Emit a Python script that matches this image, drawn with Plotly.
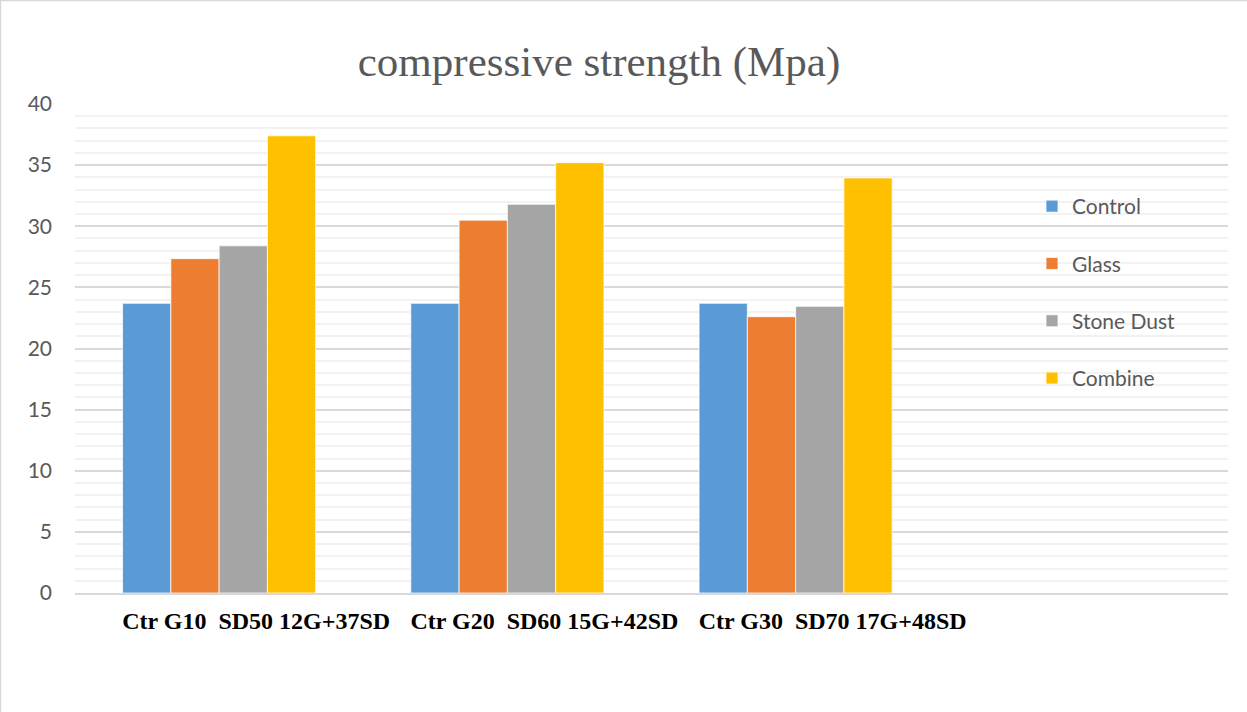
import plotly.graph_objects as go

categories = ["Ctr G10\u00a0\u00a0SD50 12G+37SD", "Ctr G20\u00a0\u00a0SD60 15G+42SD", "Ctr G30\u00a0\u00a0SD70 17G+48SD"]
series_names = ["Control", "Glass", "Stone Dust", "Combine"]
control = [23.7, 23.7, 23.7]
glass = [27.35, 30.5, 22.6]
stone_dust = [28.4, 31.8, 23.45]
combine = [37.4, 35.2, 33.95]
colors = ["#5B9BD5", "#ED7D31", "#A5A5A5", "#FFC000"]
y_ticks = [0, 5, 10, 15, 20, 25, 30, 35, 40]

x_pos = list(range(len(categories)))
fig = go.Figure()
for i, (name, vals) in enumerate(zip(series_names, [control, glass, stone_dust, combine])):
    fig.add_trace(go.Bar(
        x=x_pos, y=vals, name=name, legendgroup=name,
        marker=dict(color=colors[i], line=dict(color="white", width=0.75)),
    ))

fig.update_layout(
    width=1247, height=712,
    margin=dict(l=75, r=19, t=104, b=119),
    paper_bgcolor="white", plot_bgcolor="white",
    barmode="group", bargap=0.33, bargroupgap=0,
    title=dict(text="compressive strength (Mpa)", x=599 / 1247, xanchor="center",
               y=1 - 61 / 712, yanchor="middle", xref="container", yref="container",
               font=dict(family="Liberation Serif", size=43, color="#595959")),
    legend=dict(x=(1032 - 75) / 1153, xanchor="left", y=(593 - 186) / 489, yanchor="top",
                bgcolor="rgba(0,0,0,0)", tracegroupgap=27,
                font=dict(family="Lato", size=21, color="#595959")),
    showlegend=True,
)
fig.update_xaxes(
    range=[-0.5, 3.5], tickmode="array", tickvals=x_pos, ticktext=categories,
    ticklabelshift=37, ticklabelstandoff=5, showgrid=False, zeroline=False,
    showline=True, linecolor="#D9D9D9", linewidth=1.5, ticks="",
    tickfont=dict(family="Liberation Serif", size=24, color="black", weight="bold"),
)
fig.update_yaxes(
    range=[0, 40], tickmode="array", tickvals=y_ticks,
    showgrid=True, gridcolor="#D9D9D9", gridwidth=1.5, zeroline=False,
    minor=dict(dtick=1, showgrid=True, gridcolor="#F2F2F2", gridwidth=1.5),
    ticks="", ticklabelstandoff=22, showline=False,
    tickfont=dict(family="Lato", size=21, color="#595959"),
)
# chart-area border (top and left edges visible)
fig.add_shape(type="line", xref="paper", yref="paper",
              x0=(0.5 - 75) / 1153, x1=(0.5 - 75) / 1153, y0=(593 - 712) / 489, y1=593 / 489,
              line=dict(color="#D9D9D9", width=1.5))
fig.add_shape(type="line", xref="paper", yref="paper",
              x0=(0 - 75) / 1153, x1=(1247 - 75) / 1153, y0=(593 - 0.5) / 489, y1=(593 - 0.5) / 489,
              line=dict(color="#D9D9D9", width=1.5))

fig.write_html("out.html")
